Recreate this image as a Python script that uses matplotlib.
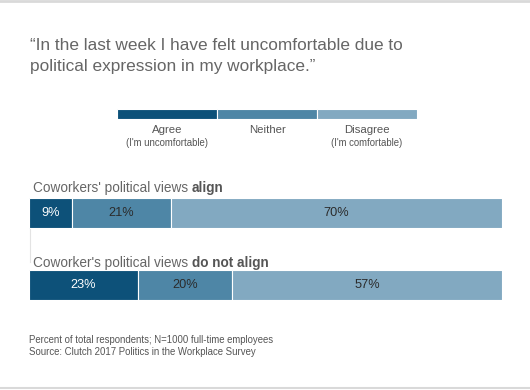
import matplotlib.pyplot as plt
import numpy as np

plt.rcParams['font.family'] = ['Liberation Sans', 'DejaVu Sans']

# data
categories = ['Agree', 'Neither', 'Disagree']
cat_notes = ["(I'm uncomfortable)", '', "(I'm comfortable)"]
groups = ["Coworkers' political views ", "Coworker's political views "]
groups_bold = ['align', 'do not align']
align = [9, 21, 70]
not_align = [23, 20, 57]
values = [align, not_align]

colors = ['#0d5179', '#4e86a6', '#82a9c1']
txt_colors = ['white', '#2b2b2b', '#2b2b2b']

W, H = 530, 390
fig = plt.figure(figsize=(W / 100, H / 100), dpi=100)
fig.patch.set_facecolor('white')

# page frame lines (top / bottom)
bg = fig.add_axes([0, 0, 1, 1])
bg.set_xlim(0, W)
bg.set_ylim(H, 0)
bg.axis('off')
bg.axhline(1, color='#d9d9d9', lw=2)
bg.axhline(388, color='#d9d9d9', lw=1.5)
bg.plot([29.5, 29.5], [228, 262], color='#e3e3e3', lw=0.8)

# title
bg.text(30, 45, '\u201cIn the last week I have felt uncomfortable due to',
        fontsize=12.4, color='#666666', va='center', ha='left')
bg.text(30, 66, 'political expression in my workplace.\u201d',
        fontsize=12.4, color='#666666', va='center', ha='left')

# legend
lg = fig.add_axes([117 / W, 1 - 119 / H, 300 / W, 10 / H])
lg.barh([0] * 3, [1] * 3, left=np.arange(3), height=1, color=colors,
        edgecolor='white', linewidth=0.8)
lg.set_xlim(0, 3)
lg.set_ylim(-0.5, 0.5)
lg.axis('off')
for i, (c, n) in enumerate(zip(categories, cat_notes)):
    bg.text(167 + i * 100, 130, c, fontsize=8.2, color='#555555', ha='center', va='center')
    if n:
        bg.text(167 + i * 100, 143, n, fontsize=6.9, color='#555555', ha='center', va='center')

# bars
ax = fig.add_axes([29 / W, 1 - 300 / H, 473 / W, 102 / H])
ax.set_xlim(0, 100)
ax.set_ylim(1 + 15 / 72, -15 / 72)
ax.axis('off')
for r, vals in enumerate(values):
    lefts = np.concatenate([[0], np.cumsum(vals)[:-1]])
    ax.barh([r] * 3, vals, left=lefts, height=30 / 72, color=colors,
            edgecolor='white', linewidth=0.8)
    for v, l, tc in zip(vals, lefts, txt_colors):
        ax.text(l + v / 2, r, f'{v}%', ha='center', va='center',
                fontsize=9.2, color=tc)

# row labels
label_y = [188, 263]
for g, gb, y in zip(groups, groups_bold, label_y):
    t = bg.text(33, y, g, fontsize=9.8, color='#666666', va='center', ha='left')
    bg.annotate(gb, xy=(1, 0.5), xycoords=t, va='center', ha='left',
                fontsize=9.8, color='#555555', fontweight='bold')

# footer
bg.text(29, 340, 'Percent of total respondents; N=1000 full-time employees',
        fontsize=6.9, color='#555555', va='center')
bg.text(29, 352, 'Source: Clutch 2017 Politics in the Workplace Survey',
        fontsize=6.9, color='#555555', va='center')

fig.savefig('out.png', dpi=100, facecolor='white')
